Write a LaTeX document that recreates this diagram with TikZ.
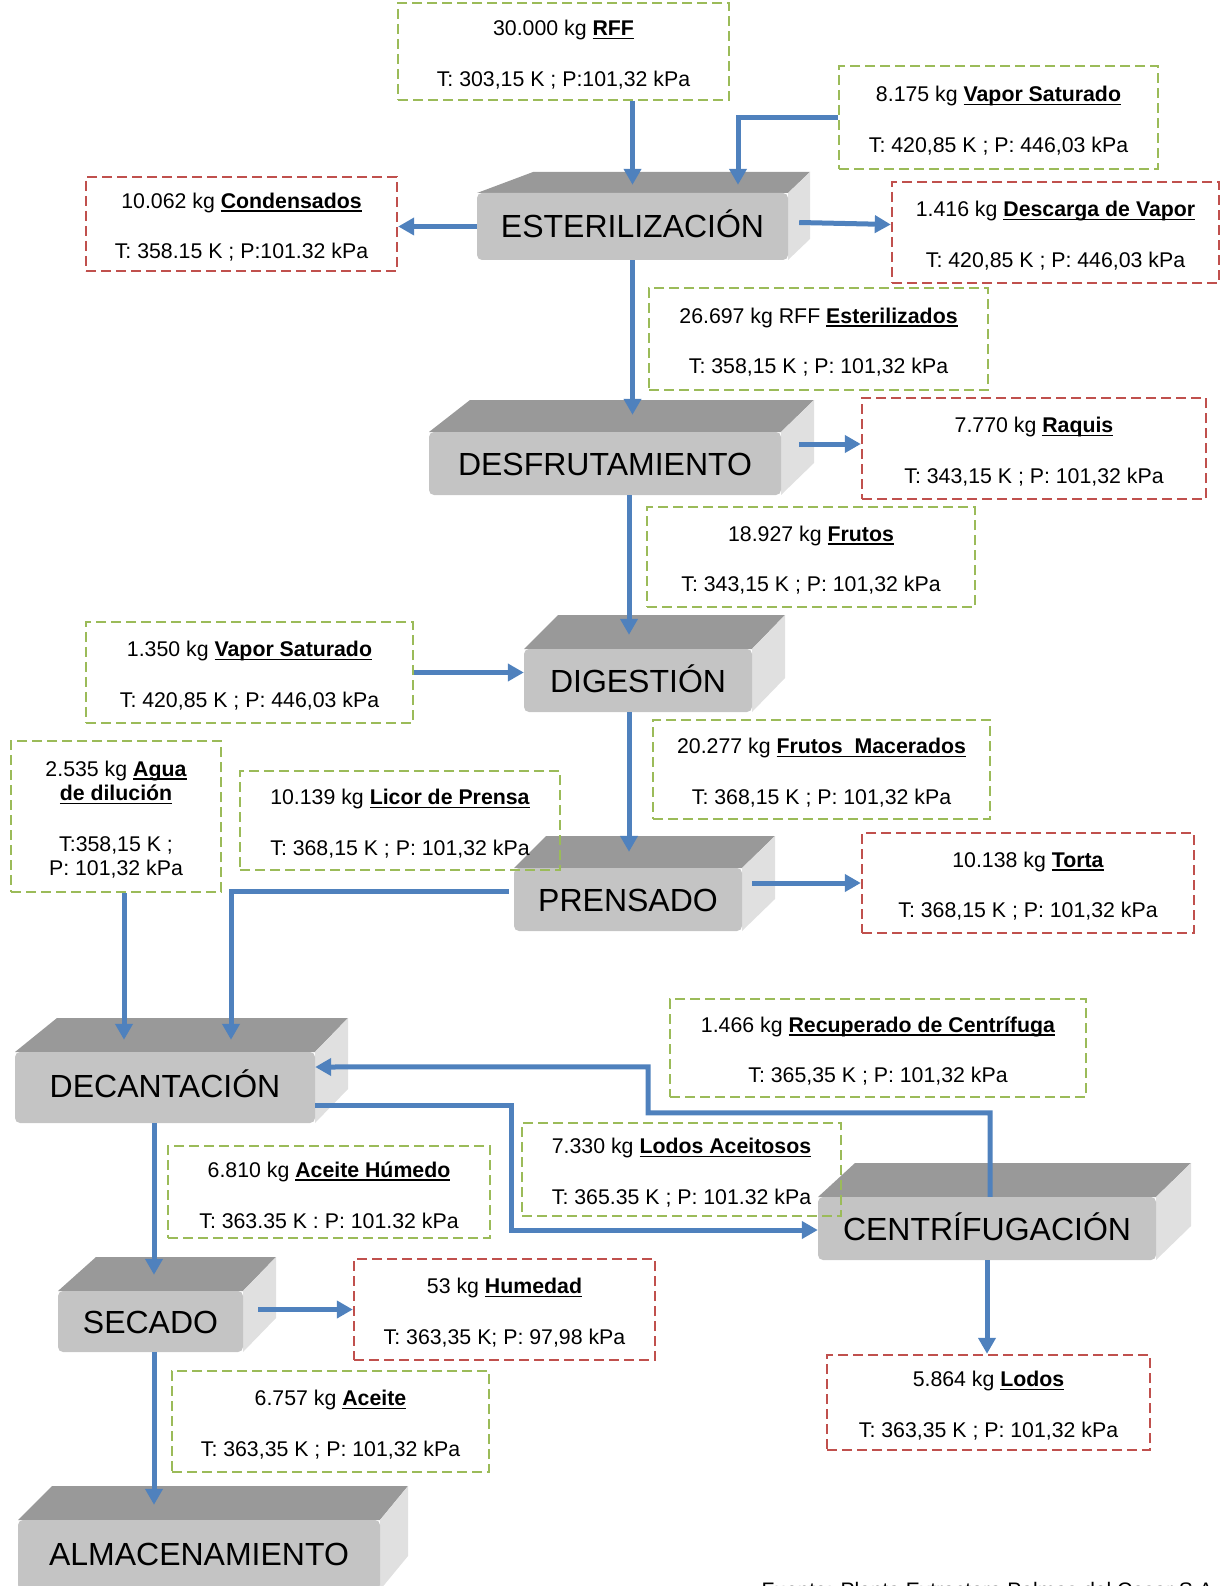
\documentclass[tikz,border=0pt]{standalone}
\usepackage{fontspec}
\setmainfont{Liberation Sans}
\usetikzlibrary{arrows.meta}
\definecolor{azul}{RGB}{79,129,189}
\definecolor{verde}{RGB}{155,187,89}
\definecolor{rojo}{RGB}{192,80,77}
\definecolor{gsup}{RGB}{153,153,153}
\definecolor{gfrente}{RGB}{196,196,196}
\definecolor{glado}{RGB}{224,224,224}
\newcommand{\subrayado}[1]{\setbox0\hbox{\textbf{#1}}\rlap{\rule[-3.5pt]{\wd0}{1.8pt}}\box0}
\newcommand{\flujo}[1]{\rule{0pt}{22pt}\subrayado{#1}}

\begin{document}
\begin{tikzpicture}[line join=miter,x=1pt,y=-1pt,>={Triangle[width=17pt,length=16pt]},
  entrada/.style={draw=verde,line width=2.4pt,dash pattern=on 10pt off 5pt,align=center,inner sep=0pt,font=\fontsize{21.3}{24.5}\selectfont},
  salida/.style={entrada,draw=rojo},
  bloque/.style={fill=gfrente,rounded corners=5pt,inner sep=0pt,text height=23pt,font=\fontsize{32}{38}\selectfont},
  flecha/.style={draw=azul,line width=5pt,->}]
\useasboundingbox (0,0) rectangle (1224,1586);

%bloques del proceso
\foreach \n/\xa/\ya/\xb/\yb/\bl/\br/\yt/\txt in {
  est/477/193/788/260/533/810/172/ESTERILIZACIÓN,
  desf/429/432/781/495/470/814/400/DESFRUTAMIENTO,
  dig/524/649/752/712/558/785/615/DIGESTIÓN,
  pren/514/868/742/931/546/775/836/PRENSADO,
  dec/15/1052/315/1123/57/348/1018/DECANTACIÓN,
  cen/818/1197/1156/1260/855/1191/1163/CENTRÍFUGACIÓN,
  sec/58/1291/243/1352/96/276/1257/SECADO,
  alm/18/1520/380/1590/52/408/1486/ALMACENAMIENTO}
{
\fill[gsup] (\xa,\ya) -- (\bl,\yt) -- (\br,\yt) -- (\xb,\ya) -- cycle;
\fill[glado] (\xb,\ya) -- (\br,\yt) -- (\br,{\yb-\ya+\yt}) -- (\xb,\yb) -- cycle;
\node[bloque,text depth={max(\yb-\ya-67,0)*1pt},minimum width={(\xb-\xa)*1pt},minimum height={(\yb-\ya)*1pt}] (\n) at ({(\xa+\xb)/2},{(\ya+\yb)/2}) {\txt};
}

%corrientes
\node[entrada,minimum width=331pt,minimum height=97pt] (rff) at (563.5,51.5) {30.000 kg \flujo{RFF}\\[26pt]T: 303,15 K ; P:101,32 kPa};
\node[entrada,minimum width=319pt,minimum height=103pt] (vap1) at (998.5,117.5) {8.175 kg \flujo{Vapor Saturado}\\[26pt]T: 420,85 K ; P: 446,03 kPa};
\node[salida,minimum width=311pt,minimum height=94pt] (cond) at (241.5,224) {10.062 kg \flujo{Condensados}\\[26pt]T: 358.15 K ; P:101.32 kPa};
\node[salida,minimum width=327pt,minimum height=101pt] (desc) at (1055.5,232.5) {1.416 kg \flujo{Descarga de Vapor}\\[26pt]T: 420,85 K ; P: 446,03 kPa};
\node[entrada,minimum width=339pt,minimum height=102pt] (este) at (818.5,339) {26.697 kg RFF \flujo{Esterilizados}\\[26pt]T: 358,15 K ; P: 101,32 kPa};
\node[salida,minimum width=344pt,minimum height=101pt] (raq) at (1034,448.5) {7.770 kg \flujo{Raquis}\\[26pt]T: 343,15 K ; P: 101,32 kPa};
\node[entrada,minimum width=328pt,minimum height=100pt] (fru) at (811,557) {18.927 kg \flujo{Frutos}\\[26pt]T: 343,15 K ; P: 101,32 kPa};
\node[entrada,minimum width=327pt,minimum height=101pt] (vap2) at (249.5,672.5) {1.350 kg \flujo{Vapor Saturado}\\[26pt]T: 420,85 K ; P: 446,03 kPa};
\node[entrada,minimum width=337pt,minimum height=99pt] (mac) at (821.5,769.5) {20.277 kg \flujo{Frutos\ \ Macerados}\\[26pt]T: 368,15 K ; P: 101,32 kPa};
\node[entrada,minimum width=210pt,minimum height=151pt] (agua) at (116,816.5) {2.535 kg \flujo{Agua}\\\subrayado{de dilución}\\[26pt]T:358,15 K ;\\P: 101,32 kPa};
\node[entrada,minimum width=320pt,minimum height=99pt] (licor) at (400,820.5) {10.139 kg \flujo{Licor de Prensa}\\[26pt]T: 368,15 K ; P: 101,32 kPa};
\node[salida,minimum width=332pt,minimum height=100pt] (torta) at (1028,883) {10.138 kg \flujo{Torta}\\[26pt]T: 368,15 K ; P: 101,32 kPa};
\node[entrada,minimum width=416pt,minimum height=98pt] (recup) at (878,1048) {1.466 kg \flujo{Recuperado de Centrífuga}\\[26pt]T: 365,35 K ; P: 101,32 kPa};
\node[entrada,minimum width=319pt,minimum height=93pt] (lodac) at (681.5,1169.5) {7.330 kg \flujo{Lodos Aceitosos}\\[26pt]T: 365.35 K ; P: 101.32 kPa};
\node[entrada,minimum width=322pt,minimum height=92pt] (acth) at (329,1192) {6.810 kg \flujo{Aceite Húmedo}\\[26pt]T: 363.35 K : P: 101.32 kPa};
\node[salida,minimum width=301pt,minimum height=101pt] (hum) at (504.5,1309.5) {53 kg \flujo{Humedad}\\[26pt]T: 363,35 K; P: 97,98 kPa};
\node[entrada,minimum width=317pt,minimum height=101pt] (ace) at (330.5,1421.5) {6.757 kg \flujo{Aceite}\\[26pt]T: 363,35 K ; P: 101,32 kPa};
\node[salida,minimum width=323pt,minimum height=95pt] (lodos) at (988.5,1402.5) {5.864 kg \flujo{Lodos}\\[26pt]T: 363,35 K ; P: 101,32 kPa};

%flechas
\draw[flecha] (rff.south -| est.north) -- ([yshift=8pt]est.north);
\draw[flecha] (vap1.west) -| ([xshift=105.5pt,yshift=8pt]est.north);
\draw[flecha] (est.west) -- (est.west -| cond.east);
\draw[flecha] ([xshift=11pt,yshift=4pt]est.east) -- ([yshift=8pt]desc.west);
\draw[flecha] (est.south) -- ([yshift=17pt]desf.north -| est.south);
\draw[flecha] ([xshift=18pt,yshift=19.5pt]desf.east) -- ([yshift=4.5pt]raq.west);
\draw[flecha] ([xshift=24pt]desf.south) -- ([xshift=-9pt,yshift=14pt]dig.north);
\draw[flecha] (vap2.east) -- (vap2.east -| dig.west);
\draw[flecha] ([xshift=-9pt]dig.south) -- ([xshift=1pt,yshift=16pt]pren.north);
\draw[flecha] ([xshift=10pt]pren.east |- torta.west) -- (torta.west);
\draw[flecha] ([xshift=-5pt,yshift=8.5pt]pren.west) -| ([xshift=66pt,yshift=12pt]dec.north);
\draw[flecha] ([xshift=8pt]agua.south) -- ([xshift=-41pt,yshift=12pt]dec.north);
\draw[flecha] ([xshift=3pt]cen.north) -- ++(0,-84) -- ++(-342,0) -- ++(0,-46) -- ([yshift=20.5pt]dec.east);
\draw[flecha] ([yshift=-17.5pt]dec.east) -- ++(196,0) |- ([yshift=-1.5pt]cen.west);
\draw[flecha] ([xshift=-11pt]dec.south) -- ([xshift=3.5pt,yshift=16pt]sec.north);
\draw[flecha] ([xshift=15pt]sec.east |- hum.west) -- (hum.west);
\draw[flecha] ([xshift=3.5pt]sec.south) -- ([xshift=-45pt,yshift=15pt]alm.north);
\draw[flecha] (cen.south) -- (cen.south |- lodos.north);

\node[anchor=base west,font=\fontsize{21}{24}\selectfont] (fuente) at (758,1597) {Fuente: Planta Extractora Palmas del Cesar S.A.};
\end{tikzpicture}
\end{document}
